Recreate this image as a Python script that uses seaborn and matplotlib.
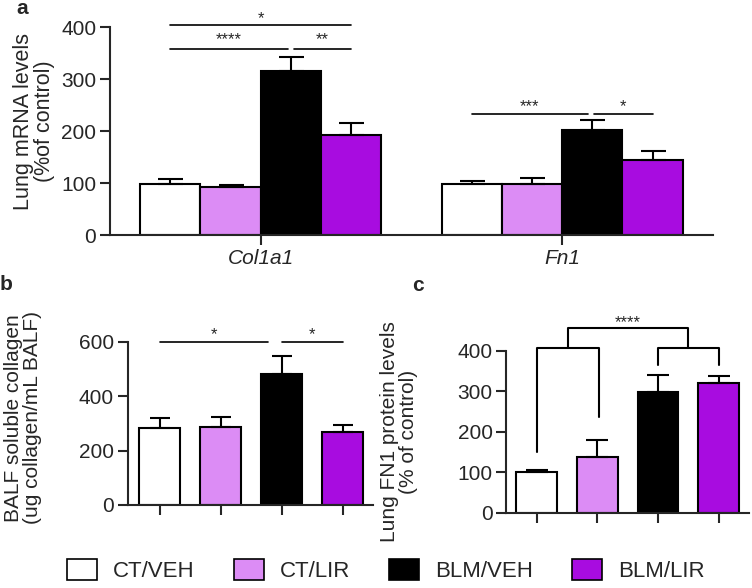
import pandas as pd
import matplotlib.pyplot as plt
import seaborn as sns
from matplotlib.patches import Patch

# Data (mean, upper SEM)
groups = ['CT/VEH', 'CT/LIR', 'BLM/VEH', 'BLM/LIR']
colors = ['#FFFFFF', '#DC8CF5', '#000000', '#A80CE0']
genes = ['Col1a1', 'Fn1']

col1a1_mean = [98, 92, 316, 193]
col1a1_err = [10, 4, 27, 22]
fn1_mean = [98, 99, 202, 144]
fn1_err = [5, 10, 19, 18]

balf_mean = [285, 288, 481, 268]
balf_err = [34, 37, 67, 27]

fn1_protein_mean = [100, 137, 299, 321]
fn1_protein_err = [6, 42, 41, 18]

sns.set_style('ticks')
plt.rcParams['font.family'] = ['Liberation Sans', 'DejaVu Sans']
plt.rcParams['axes.linewidth'] = 1.5

fig = plt.figure(figsize=(7.52, 5.88), dpi=100)
ax_a = fig.add_axes([0.1463, 0.6003, 0.8016, 0.3537])
ax_b = fig.add_axes([0.1702, 0.1412, 0.3258, 0.2772])
ax_c = fig.add_axes([0.6735, 0.1284, 0.3225, 0.2747])

tick_kw = dict(length=7, width=1.5, labelsize=15, direction='out', pad=3)


def add_errbars(ax, means, errs, cap):
    xs = sorted(p.get_x() + p.get_width() / 2 for p in ax.patches)
    ax.errorbar(xs, means, yerr=[[0] * len(errs), errs], fmt='none',
                ecolor='black', elinewidth=1.5, capsize=cap, capthick=1.5, zorder=1)


def sig(ax, x1, x2, y, text, dy=0):
    ax.plot([x1, x2], [y, y], color='black', lw=1.2, clip_on=False)
    ax.annotate(text, ((x1 + x2) / 2, y), xytext=(0, dy), textcoords='offset points',
                ha='center', va='bottom', fontsize=12, annotation_clip=False)


# ---- panel a: mRNA levels
df_a = pd.DataFrame({
    'gene': [g for g in genes for _ in groups],
    'group': groups * 2,
    'value': col1a1_mean + fn1_mean,
})
sns.barplot(data=df_a, x='gene', y='value', hue='group', hue_order=groups,
            palette=colors, saturation=1, edgecolor='black', linewidth=1.5, width=0.8,
            errorbar=None, legend=False, ax=ax_a)
bar_sets = list(ax_a.containers)
for i, cont in enumerate(bar_sets):
    xs = [b.get_x() + b.get_width() / 2 for b in cont.patches]
    ax_a.errorbar(xs, [col1a1_mean[i], fn1_mean[i]],
                  yerr=[[0, 0], [col1a1_err[i], fn1_err[i]]], fmt='none',
                  ecolor='black', elinewidth=1.5, capsize=9, capthick=1.5, zorder=1)
ax_a.set_xlim(-0.5, 1.5)
ax_a.set_ylim(0, 400)
ax_a.set_yticks([0, 100, 200, 300, 400])
ax_a.set_xlabel('')
ax_a.set_ylabel('Lung mRNA levels\n(%of control)', fontsize=15.5, linespacing=1.0)
ax_a.yaxis.set_label_coords(-0.091, 0.548)
ax_a.tick_params(**tick_kw)
for lbl in ax_a.get_xticklabels():
    lbl.set_fontstyle('italic')
sns.despine(ax=ax_a)

sig(ax_a, -0.3, 0.3, 404, '*', dy=-1)
sig(ax_a, -0.3, 0.09, 358, '****', dy=1)
sig(ax_a, 0.11, 0.3, 358, '**', dy=1)
sig(ax_a, 0.7, 1.085, 232, '***')
sig(ax_a, 1.105, 1.3, 232, '*')

# ---- panel b: BALF soluble collagen
sns.barplot(x=groups, y=balf_mean, hue=groups, palette=colors, saturation=1,
            edgecolor='black', linewidth=1.5, width=0.67, errorbar=None,
            legend=False, ax=ax_b)
add_errbars(ax_b, balf_mean, balf_err, 7)
ax_b.set_xlim(-0.52, 3.5)
ax_b.set_ylim(0, 600)
ax_b.set_yticks([0, 200, 400, 600])
ax_b.set_ylabel('BALF soluble collagen\n(ug collagen/mL BALF)', fontsize=15, linespacing=1.0)
ax_b.yaxis.set_label_coords(-0.351, 0.534)
ax_b.tick_params(labelbottom=False, **tick_kw)
sns.despine(ax=ax_b)

sig(ax_b, 0.0, 1.78, 600, '*')
sig(ax_b, 2.0, 3.0, 600, '*')

# ---- panel c: FN1 protein
sns.barplot(x=groups, y=fn1_protein_mean, hue=groups, palette=colors, saturation=1,
            edgecolor='black', linewidth=1.5, width=0.67, errorbar=None,
            legend=False, ax=ax_c)
add_errbars(ax_c, fn1_protein_mean, fn1_protein_err, 8)
ax_c.set_xlim(-0.5, 3.5)
ax_c.set_ylim(0, 400)
ax_c.set_yticks([0, 100, 200, 300, 400])
ax_c.set_ylabel('Lung FN1 protein levels\n(% of control)', fontsize=15, linespacing=1.0)
ax_c.yaxis.set_label_coords(-0.365, 0.5)
ax_c.tick_params(labelbottom=False, **tick_kw)
sns.despine(ax=ax_c)

bk = dict(color='black', lw=1.5, clip_on=False)
ax_c.plot([0, 0, 1.02, 1.02], [150, 408, 408, 237], **bk)
ax_c.plot([2, 2, 3, 3], [365, 408, 408, 365], **bk)
ax_c.plot([0.51, 0.51, 2.5, 2.5], [408, 456, 456, 408], **bk)
ax_c.annotate('****', (1.5, 456), xytext=(0, -1), textcoords='offset points',
              ha='center', va='bottom', fontsize=12, annotation_clip=False)

# panel letters
fig.text(0.029, 0.986, 'a', fontsize=15, fontweight='bold', ha='center', va='center')
fig.text(0.008, 0.517, 'b', fontsize=15, fontweight='bold', ha='center', va='center')
fig.text(0.556, 0.514, 'c', fontsize=15, fontweight='bold', ha='center', va='center')

# shared legend
handles = [Patch(facecolor=c, edgecolor='black', linewidth=1.2) for c in colors]
fig.legend(handles, groups, loc='center', bbox_to_anchor=(0.513, 0.030), ncol=4,
           frameon=False, fontsize=16, handlelength=1.35, handleheight=1.13,
           handletextpad=0.72, columnspacing=1.75)

fig.savefig('out.png', dpi=100)
